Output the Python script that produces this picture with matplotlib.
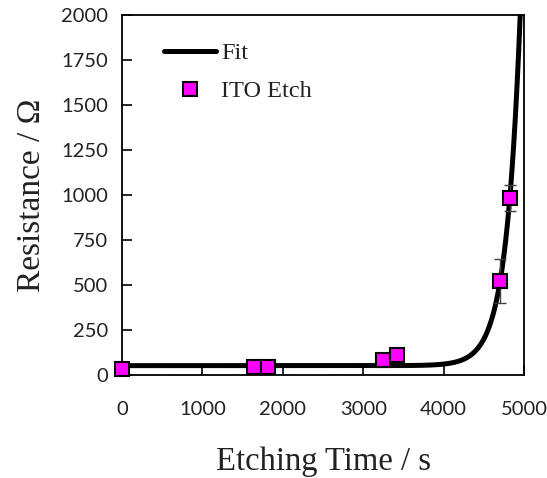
import numpy as np
import matplotlib
matplotlib.use("Agg")
import matplotlib.pyplot as plt
from matplotlib.lines import Line2D

# Data
etch_time = [0, 1648, 1822, 3242, 3421, 4707, 4823]
resistance = [35, 46, 46, 83, 111, 522, 985]
resistance_err = [0, 0, 0, 0, 0, 120, 72]

# Fit model: R = base + amp * exp(rate * (t - t_ref))
fit_base = 52.0
fit_amp = 815.0
fit_rate = 0.0057
fit_tref = 4800.0

x_ticks = [0, 1000, 2000, 3000, 4000, 5000]
y_ticks = [0, 250, 500, 750, 1000, 1250, 1500, 1750, 2000]

fig = plt.figure(figsize=(5.47, 4.78), dpi=100)
ax = fig.add_axes([122/547, 103/478, 402/547, 360/478])

t_fit = np.linspace(0, 5100, 2000)
r_fit = fit_base + fit_amp * np.exp(fit_rate * (t_fit - fit_tref))
ax.plot(t_fit, r_fit, color="black", lw=3.6, zorder=2, solid_capstyle="butt")

ax.errorbar(etch_time, resistance, yerr=resistance_err, fmt="none",
            ecolor="#404040", elinewidth=1.0, capsize=4, capthick=1.0, zorder=3)
ax.plot(etch_time, resistance, ls="none", marker="s", ms=9.5,
        mfc="#FF00FF", mec="black", mew=1.5, zorder=4, clip_on=False)

ax.set_xlim(0, 5000)
ax.set_ylim(0, 2000)
ax.set_xticks(x_ticks)
ax.set_yticks(y_ticks)

tick_font = dict(family=["Lato", "DejaVu Sans"], size=14.5)
ax.set_xticklabels([str(v) for v in x_ticks], **tick_font)
ax.set_yticklabels([str(v) for v in y_ticks], **tick_font)
ax.tick_params(direction="in", length=7, width=1.2, color="black",
               labelcolor="#222222")
ax.tick_params(axis="x", pad=19)
ax.tick_params(axis="y", pad=10)
for s in ax.spines.values():
    s.set_linewidth(1.3)

label_font = dict(family=["Liberation Serif", "DejaVu Serif"], color="#222222")
ax.set_xlabel("Etching Time / s", labelpad=20, size=23.5, **label_font)
ax.set_ylabel("Resistance / Ω", labelpad=10, size=24, **label_font)

handles = [
    Line2D([], [], color="black", lw=3.6, solid_capstyle="round"),
    Line2D([], [], ls="none", marker="s", ms=9.5, mfc="#FF00FF", mec="black", mew=1.5),
]
leg = ax.legend(handles, ["Fit", "ITO Etch"], loc="upper left",
                bbox_to_anchor=(0.05, 0.985), frameon=False,
                prop=dict(family=["Liberation Serif", "DejaVu Serif"], size=17.5),
                handlelength=2.15, handletextpad=0.2, labelspacing=0.65)
for t in leg.get_texts():
    t.set_color("#222222")

fig.savefig("out.png", dpi=100)
